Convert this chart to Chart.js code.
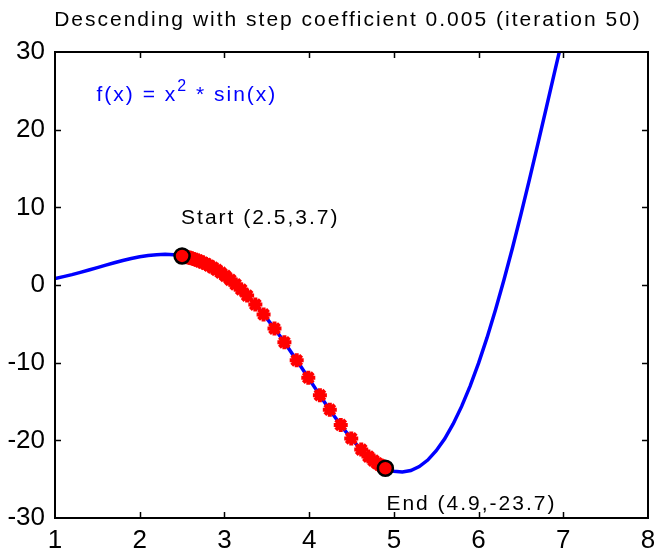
<!DOCTYPE html>
<html>
<head>
<meta charset="utf-8">
<script src="https://cdn.jsdelivr.net/npm/chart.js@4.4.1/dist/chart.umd.min.js"></script>
<style>
  body { margin: 0; background: #fff; }
  #wrap { width: 659px; height: 552px; }
</style>
</head>
<body>
<div id="wrap"><canvas id="descentChart"></canvas></div>
<script>
// Blue curve f(x) = x^2 * sin(x)
var curveX = [1.0, 1.1, 1.2, 1.3, 1.4, 1.5, 1.6, 1.7, 1.8, 1.9,
  2.0, 2.1, 2.2, 2.3, 2.4, 2.5, 2.6, 2.7, 2.8, 2.9,
  3.0, 3.1, 3.2, 3.3, 3.4, 3.5, 3.6, 3.7, 3.8, 3.9,
  4.0, 4.1, 4.2, 4.3, 4.4, 4.5, 4.6, 4.7, 4.8, 4.9,
  5.0, 5.1, 5.2, 5.3, 5.4, 5.5, 5.6, 5.7, 5.8, 5.9,
  6.0, 6.1, 6.2, 6.3, 6.4, 6.5, 6.6, 6.7, 6.8, 6.9, 7.0];
var curveY = [0.84, 1.08, 1.34, 1.63, 1.93, 2.24, 2.56, 2.87, 3.16, 3.42,
  3.64, 3.81, 3.91, 3.95, 3.89, 3.74, 3.49, 3.12, 2.63, 2.01,
  1.27, 0.40, -0.60, -1.72, -2.95, -4.30, -5.74, -7.25, -8.84, -10.46,
  -12.11, -13.76, -15.38, -16.94, -18.42, -19.79, -21.03, -22.09, -22.95, -23.59,
  -23.97, -24.08, -23.89, -23.38, -22.54, -21.34, -19.80, -17.89, -15.63, -13.02,
  -10.06, -6.78, -3.19, 0.67, 4.77, 9.09, 13.57, 18.17, 22.85, 27.54, 32.19];

// Red descent steps
var pathX = [2.5, 2.51, 2.52, 2.532, 2.545, 2.56, 2.576, 2.594, 2.614, 2.636,
  2.66, 2.686, 2.715, 2.747, 2.782, 2.82, 2.862, 2.908, 2.958, 3.012,
  3.07, 3.132, 3.198, 3.268, 3.365, 3.462, 3.591, 3.708, 3.853, 3.99,
  4.127, 4.244, 4.373, 4.497, 4.615, 4.70, 4.76, 4.80, 4.83, 4.85,
  4.865, 4.877, 4.886, 4.893, 4.9];
var pathY = [3.74, 3.72, 3.69, 3.66, 3.63, 3.59, 3.55, 3.50, 3.43, 3.35,
  3.26, 3.17, 3.04, 2.89, 2.71, 2.50, 2.25, 1.95, 1.58, 1.17,
  0.66, 0.08, -0.58, -1.36, -2.52, -3.79, -5.61, -7.38, -9.70, -11.94,
  -14.19, -16.06, -18.02, -19.75, -21.19, -22.09, -22.61, -22.95, -23.14, -23.27,
  -23.37, -23.44, -23.50, -23.55, -23.59];

var startPoint = [2.5, 3.74];
var endPoint = [4.9, -23.59];
var startLabel = 'Start (2.5,3.7)';
var endLabel = 'End (4.9,-23.7)';
var titleText = 'Descending with step coefficient 0.005 (iteration 50)';

var xTicks = [1, 2, 3, 4, 5, 6, 7, 8];
var yTicks = [-30, -20, -10, 0, 10, 20, 30];

var FONT = '"Liberation Sans", Arial, sans-serif';
var TICK_FONT = '"Liberation Sans Narrow", "Arial Narrow", "Liberation Sans", sans-serif';

function toPoints(xs, ys) {
  return xs.map(function (x, i) { return { x: x, y: ys[i] }; });
}

// box, inward ticks, title and the text notes
var framePlugin = {
  id: 'frame',
  afterDraw: function (chart) {
    var ctx = chart.ctx;
    var a = chart.chartArea;
    var sx = chart.scales.x, sy = chart.scales.y;
    ctx.save();
    ctx.strokeStyle = '#000';
    ctx.lineWidth = 2;
    ctx.strokeRect(a.left, a.top, a.right - a.left, a.bottom - a.top);
    ctx.lineWidth = 1.5;
    ctx.beginPath();
    xTicks.slice(1, -1).forEach(function (v) {
      var px = Math.round(sx.getPixelForValue(v)) + 0.5;
      ctx.moveTo(px, a.bottom); ctx.lineTo(px, a.bottom - 6);
      ctx.moveTo(px, a.top); ctx.lineTo(px, a.top + 6);
    });
    yTicks.slice(1, -1).forEach(function (v) {
      var py = Math.round(sy.getPixelForValue(v)) + 0.5;
      ctx.moveTo(a.left, py); ctx.lineTo(a.left + 6, py);
      ctx.moveTo(a.right, py); ctx.lineTo(a.right - 6, py);
    });
    ctx.stroke();

    ctx.letterSpacing = '2px';
    ctx.fillStyle = '#000';
    ctx.textBaseline = 'middle';
    ctx.textAlign = 'center';
    ctx.font = '21px ' + FONT;
    ctx.fillText(titleText, 348, 20);

    ctx.textAlign = 'left';
    ctx.fillText(startLabel, sx.getPixelForValue(startPoint[0]) - 1, sy.getPixelForValue(startPoint[1]) - 38);
    ctx.fillText(endLabel, sx.getPixelForValue(endPoint[0]) + 1, sy.getPixelForValue(endPoint[1]) + 36);

    // formula with superscript
    ctx.fillStyle = '#0000ff';
    var fx = sx.getPixelForValue(1.49), fy = sy.getPixelForValue(24.4);
    var part1 = 'f(x) = x';
    ctx.fillText(part1, fx, fy);
    var w1 = ctx.measureText(part1).width;
    ctx.font = '16px ' + FONT;
    ctx.fillText('2', fx + w1, fy - 9);
    var w2 = ctx.measureText('2').width;
    ctx.font = '21px ' + FONT;
    ctx.fillText(' * sin(x)', fx + w1 + w2, fy);
    ctx.restore();
  }
};

var ctx = document.getElementById('descentChart').getContext('2d');

var descentChart = new Chart(ctx, {
  type: 'scatter',
  data: {
    datasets: [{
      label: 'Start / End',
      data: [{ x: startPoint[0], y: startPoint[1] }, { x: endPoint[0], y: endPoint[1] }],
      pointRadius: 7.5,
      pointBorderWidth: 2.5,
      pointBackgroundColor: '#ff0000',
      pointBorderColor: '#000',
      showLine: false,
      order: 0
    }, {
      label: 'Steps',
      data: toPoints(pathX, pathY),
      pointStyle: 'star',
      pointRadius: 7,
      pointBorderWidth: 4,
      pointBackgroundColor: '#ff0000',
      pointBorderColor: '#ff0000',
      showLine: false,
      order: 1
    }, {
      label: 'f(x)',
      data: toPoints(curveX, curveY),
      showLine: true,
      borderColor: '#0000ff',
      borderWidth: 3.5,
      pointRadius: 0,
      tension: 0,
      order: 2
    }]
  },
  options: {
    responsive: true,
    maintainAspectRatio: false,
    animation: false,
    layout: { padding: { top: 52, right: 7, left: 0, bottom: 0 } },
    plugins: {
      legend: { display: false },
      tooltip: { enabled: false },
      title: { display: false }
    },
    scales: {
      x: {
        type: 'linear',
        min: 1,
        max: 8,
        afterBuildTicks: function (axis) { axis.ticks = xTicks.map(function (v) { return { value: v }; }); },
        afterFit: function (axis) { axis.height = 34; axis.paddingLeft = 0; axis.paddingRight = 0; },
        grid: { display: false, drawTicks: false },
        border: { display: false },
        ticks: { color: '#000', padding: 7, font: { family: TICK_FONT, size: 26 }, maxRotation: 0, autoSkip: false }
      },
      y: {
        type: 'linear',
        min: -30,
        max: 30,
        afterBuildTicks: function (axis) { axis.ticks = yTicks.map(function (v) { return { value: v }; }); },
        afterFit: function (axis) { axis.width = 55; axis.paddingTop = 0; axis.paddingBottom = 0; },
        grid: { display: false, drawTicks: false },
        border: { display: false },
        ticks: { color: '#000', padding: 10, font: { family: TICK_FONT, size: 26 }, autoSkip: false }
      }
    }
  },
  plugins: [framePlugin]
});
</script>
</body>
</html>
